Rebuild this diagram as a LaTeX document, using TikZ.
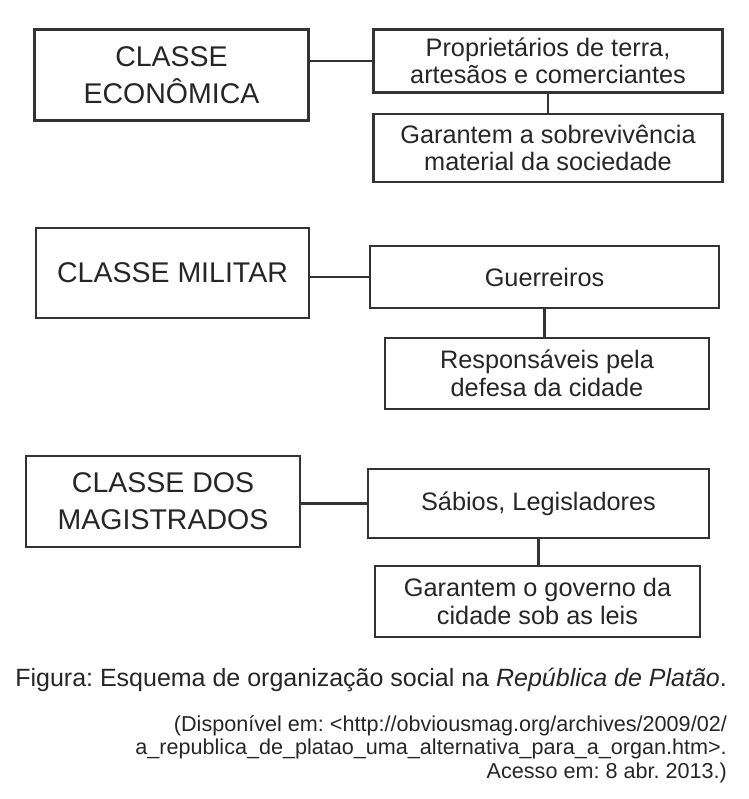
\documentclass[tikz,border=0pt]{standalone}
\usepackage{fontspec}
\setmainfont{Liberation Sans}
\usepackage{tikz}
\usetikzlibrary{calc}
\frenchspacing

\begin{document}
\begin{tikzpicture}[x=1pt,y=-1pt,
	line width=2.3pt, draw=black!80, text=black!85,
	classbox/.style={draw, align=center, inner sep=0pt,
		font=\fontsize{28.5}{37}\selectfont},
	itembox/.style={draw, align=center, inner sep=0pt,
		font=\fontsize{25.3}{27.5}\selectfont}]
	
	% ---- (A) canvas ----
	\useasboundingbox (0,0) rectangle (748,799);
	
	% ---- (B) classe economica ----
	\node[classbox, minimum width=274pt, minimum height=91pt] (eco) at (171.5,75) {CLASSE\\ECONÔMICA};
	\node[itembox, minimum width=349pt, minimum height=63pt] (ecoA) at (548,61) {Proprietários de terra,\\artesãos e comerciantes};
	\node[itembox, minimum width=349pt, minimum height=68pt] (ecoB) at (548,148) {Garantem a sobrevivência\\material da sociedade};
	\draw (ecoA.west) -- (ecoA.west -| eco.east);
	\draw (ecoA.south) -- (ecoA.south |- ecoB.north);
	
	% ---- (C) classe militar ----
	\node[classbox, minimum width=273pt, minimum height=90pt] (mil) at (172.5,273) {CLASSE MILITAR};
	\node[itembox, minimum width=349pt, minimum height=62pt] (milA) at (544.5,277) {Guerreiros};
	\node[itembox, minimum width=324pt, minimum height=71pt] (milB) at (547,373.5) {Responsáveis pela\\defesa da cidade};
	\draw (milA.west) -- (milA.west -| mil.east);
	\draw (milA.south) -- (milA.south |- milB.north);
	
	% ---- (D) classe dos magistrados ----
	\node[classbox, minimum width=274pt, minimum height=91pt] (mag) at (163,501.5) {CLASSE DOS\\MAGISTRADOS};
	\node[itembox, minimum width=341pt, minimum height=69pt] (magA) at (538.5,503.5) {Sábios, Legisladores};
	\node[itembox, minimum width=325pt, minimum height=71pt] (magB) at (537.5,601.5) {Garantem o governo da\\cidade sob as leis};
	\draw (magA.west) -- (magA.west -| mag.east);
	\draw (magA.south) -- (magA.south |- magB.north);
	
	% ---- (E) legenda e fonte ----
	\node[anchor=east, inner sep=0pt, font=\fontsize{25}{28}\selectfont] (caption) at (728,680)
	{Figura: Esquema de organização social na \textit{República de Platão}.};
	\node[anchor=east, align=right, inner sep=0pt, font=\fontsize{21.6}{23.5}\selectfont] (source) at (728,749)
	{(Disponível em: <http://obviousmag.org/archives/2009/02/\\
		a\_republica\_de\_platao\_uma\_alternativa\_para\_a\_organ.htm>.\\
		Acesso em: 8 abr. 2013.)};
	
\end{tikzpicture}
\end{document}
